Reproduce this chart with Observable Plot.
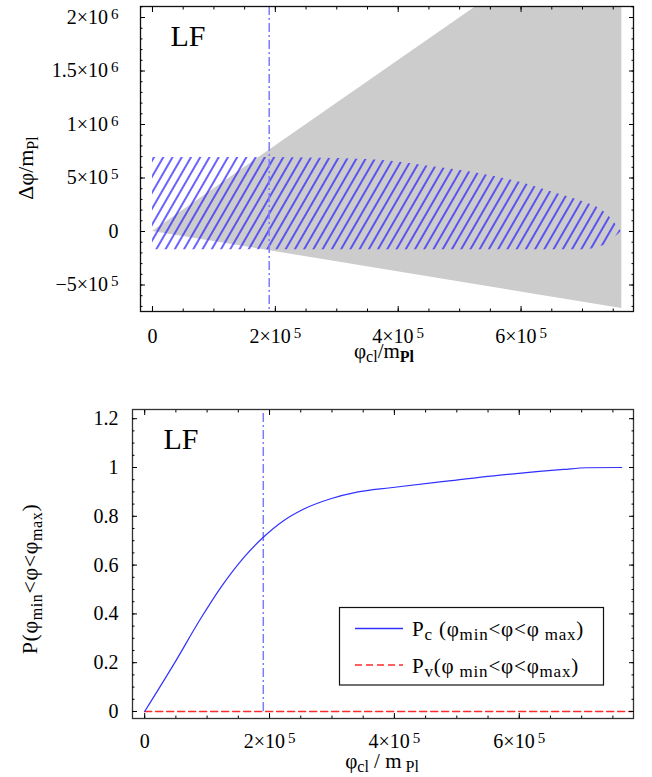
<!DOCTYPE html>
<html><head><meta charset="utf-8">
<script src="https://cdn.jsdelivr.net/npm/d3@7"></script>
<script src="https://cdn.jsdelivr.net/npm/@observablehq/plot@0.6"></script>
<style>
body{margin:0;background:#fff;}
#chart{width:652px;height:777px;}
#chart svg{display:block;}
</style></head><body><div id="chart"></div>
<script>
const FONT = "'Liberation Serif','Times New Roman',serif";

// ---------- data ----------
const xDomain = [-19500, 783000];
const topYDomain = [-747700, 2103000];
const botYDomain = [-0.0287, 1.2377];

// grey allowed wedge (top panel)
const wedgeX = [0, 764000];
const wedgeUpper = [0, 3050000];
const wedgeLower = [0, -720000];

// hatched region (top panel)
const hatchX = [0, 100000, 200000, 250000, 300000, 350000, 400000, 450000, 500000, 550000, 600000, 650000, 700000, 730000, 745000, 755000, 763000];
const hatchTop = [692000, 692000, 692000, 688000, 682000, 672000, 650000, 610000, 572000, 522000, 458000, 370000, 280000, 205000, 130000, 60000, 0];
const hatchBottom = [-170000, -170000, -170000, -170000, -170000, -170000, -170000, -170000, -170000, -170000, -170000, -170000, -170000, -140000, -95000, -45000, 0];

// phi_cl marker
const clX = [190000];

// bottom panel series
const pcX = [0, 47000, 90000, 124000, 159000, 190000, 223000, 255000, 298000, 340000, 394000, 484000, 591000, 671000, 708000, 764000];
const pcY = [0, 0.195, 0.382, 0.516, 0.632, 0.714, 0.783, 0.83, 0.872, 0.899, 0.917, 0.944, 0.974, 0.992, 0.999, 1.0];
const pvX = [0, 780000];
const pvY = [0, 0];

// ticks
const xTicks = [0, 200000, 400000, 600000];
const xTickLabels = ["0", "2×10^5", "4×10^5", "6×10^5"];
const xMinor = [0, 50000, 100000, 150000, 200000, 250000, 300000, 350000, 400000, 450000, 500000, 550000, 600000, 650000, 700000, 750000];
const topYTicks = [-500000, 0, 500000, 1000000, 1500000, 2000000];
const topYTickLabels = ["−5×10^5", "0", "5×10^5", "1×10^6", "1.5×10^6", "2×10^6"];
const topYMinor = [-700000, -600000, -500000, -400000, -300000, -200000, -100000, 0, 100000, 200000, 300000, 400000, 500000, 600000, 700000, 800000, 900000, 1000000, 1100000, 1200000, 1300000, 1400000, 1500000, 1600000, 1700000, 1800000, 1900000, 2000000, 2100000];
const botYTicks = [0, 0.2, 0.4, 0.6, 0.8, 1, 1.2];
const botYTickLabels = ["0", "0.2", "0.4", "0.6", "0.8", "1", "1.2"];
const botYMinor = [0, 0.05, 0.1, 0.15, 0.2, 0.25, 0.3, 0.35, 0.4, 0.45, 0.5, 0.55, 0.6, 0.65, 0.7, 0.75, 0.8, 0.85, 0.9, 0.95, 1, 1.05, 1.1, 1.15, 1.2];

// ---------- tables ----------
const wedge = wedgeX.map((x, i) => ({x, lo: wedgeLower[i], hi: wedgeUpper[i]}));
const hatch = hatchX.map((x, i) => ({x, lo: hatchBottom[i], hi: hatchTop[i]}));
const pc = pcX.map((x, i) => ({x, y: pcY[i]}));
const pv = pvX.map((x, i) => ({x, y: pvY[i]}));

const fmt = (T, L) => d => { const i = T.indexOf(d); return i < 0 ? "" : L[i]; };
const blank = () => "";

function boxAxes(xT, xL, xM, yT, yL, yM, padX, padY) {
  return [
    Plot.axisX(xT, {anchor: "bottom", tickSize: -5, tickPadding: padX, tickFormat: fmt(xT, xL), label: null}),
    Plot.axisX(xM, {anchor: "bottom", tickSize: -2.5, tickFormat: blank, label: null}),
    Plot.axisX(xT, {anchor: "top", tickSize: -5, tickFormat: blank, label: null}),
    Plot.axisX(xM, {anchor: "top", tickSize: -2.5, tickFormat: blank, label: null}),
    Plot.axisY(yT, {anchor: "left", tickSize: -5, tickPadding: padY, tickFormat: fmt(yT, yL), label: null}),
    Plot.axisY(yM, {anchor: "left", tickSize: -2.5, tickFormat: blank, label: null}),
    Plot.axisY(yT, {anchor: "right", tickSize: -5, tickFormat: blank, label: null}),
    Plot.axisY(yM, {anchor: "right", tickSize: -2.5, tickFormat: blank, label: null})
  ];
}

const style = {background: "white", fontFamily: FONT, fontSize: "20px", color: "black", overflow: "visible"};

const topSvg = Plot.plot({
  width: 652, height: 365,
  marginLeft: 140, marginRight: 19, marginTop: 6, marginBottom: 54,
  x: {domain: xDomain},
  y: {domain: topYDomain},
  style,
  marks: [
    Plot.areaY(wedge, {x: "x", y1: "lo", y2: "hi", fill: "#cccccc", clip: true}),
    Plot.areaY(hatch, {x: "x", y1: "lo", y2: "hi", fill: "url(#hatch)", curve: "monotone-x"}),
    Plot.ruleX(clX, {stroke: "#7b7bff", strokeWidth: 1.5, strokeDasharray: "9,3,2,3"}),
    Plot.frame({stroke: "#111", strokeWidth: 1.3}),
    ...boxAxes(xTicks, xTickLabels, xMinor, topYTicks, topYTickLabels, topYMinor, 22, 27),
    Plot.text(["LF"], {text: d => d, frameAnchor: "top-left", dx: 30, dy: 39, lineAnchor: "bottom", textAnchor: "start", fontSize: 30})
  ]
});

const botSvg = Plot.plot({
  width: 652, height: 412,
  marginLeft: 132, marginRight: 19, marginTop: 44, marginBottom: 59,
  x: {domain: xDomain},
  y: {domain: botYDomain},
  style,
  marks: [
    Plot.ruleX(clX, {y1: 0, y2: botYDomain[1], stroke: "#7b7bff", strokeWidth: 1.5, strokeDasharray: "9,3,2,3"}),
    Plot.line(pv, {x: "x", y: "y", stroke: "#ff2a2a", strokeWidth: 1.5, strokeDasharray: "7,4"}),
    Plot.line(pc, {x: "x", y: "y", stroke: "#3030ff", strokeWidth: 1.2, curve: "monotone-x"}),
    Plot.frame({stroke: "#333", strokeWidth: 1.3}),
    ...boxAxes(xTicks, xTickLabels, xMinor, botYTicks, botYTickLabels, botYMinor, 20, 19),
    Plot.text(["LF"], {text: d => d, frameAnchor: "top-left", dx: 31, dy: 39, lineAnchor: "bottom", textAnchor: "start", fontSize: 30})
  ]
});

const chart = document.getElementById("chart");
chart.appendChild(topSvg);
chart.appendChild(botSvg);

// hatch pattern
const defs = d3.select(topSvg).insert("defs", ":first-child");
const pat = defs.append("pattern").attr("id", "hatch").attr("patternUnits", "userSpaceOnUse")
  .attr("width", 8).attr("height", 8).attr("patternTransform", "rotate(30)");
pat.append("line").attr("x1", 4).attr("y1", -1).attr("x2", 4).attr("y2", 9)
  .attr("stroke", "#2a1fff").attr("stroke-width", 1.4);

// superscripts in tick labels
for (const svg of [topSvg, botSvg]) {
  svg.querySelectorAll("text").forEach(t => {
    if (t.children.length) return;
    const s = t.textContent;
    const i = s.indexOf("^");
    if (i < 0) return;
    t.textContent = s.slice(0, i);
    const ts = document.createElementNS("http://www.w3.org/2000/svg", "tspan");
    ts.setAttribute("dx", "3");
    ts.setAttribute("dy", "-5");
    ts.setAttribute("font-size", "15");
    ts.textContent = s.slice(i + 1);
    t.appendChild(ts);
  });
}

function rich(svg, {x, y, rotate = 0, anchor = "middle", size = 22, spacing = 0, parts}) {
  const t = d3.select(svg).append("text")
    .attr("transform", `translate(${x},${y}) rotate(${rotate})`)
    .attr("text-anchor", anchor)
    .attr("font-family", FONT).attr("font-size", size).attr("fill", "black")
    .style("white-space", "pre");
  if (spacing) t.attr("letter-spacing", spacing);
  let cur = 0;
  for (const p of parts) {
    const s = t.append("tspan").text(p.t);
    const shift = p.shift || 0;
    if (shift !== cur) s.attr("dy", shift - cur);
    cur = shift;
    if (p.size) s.attr("font-size", p.size);
    if (p.bold) s.attr("font-weight", "bold");
  }
  return t;
}

// axis titles
rich(topSvg, {x: 384, y: 358, size: 21, parts: [{t: "φ"}, {t: "cl", size: 16, shift: 4}, {t: "/m"}, {t: "Pl", size: 16, shift: 4, bold: true}]});
rich(topSvg, {x: 33, y: 168, rotate: -90, parts: [{t: "Δφ/m"}, {t: "Pl", size: 16, shift: 5}]});
rich(botSvg, {x: 37, y: 214, rotate: -90, spacing: 0.6, parts: [{t: "P(φ"}, {t: "min", size: 16, shift: 5}, {t: "<φ<φ"}, {t: "max", size: 16, shift: 5}, {t: ")"}]});
rich(botSvg, {x: 382, y: 403, size: 21, parts: [{t: "φ"}, {t: "cl", size: 16, shift: 4}, {t: " / m"}, {t: " Pl", size: 16, shift: 4}]});

// legend
const lg = d3.select(botSvg).append("g");
lg.append("rect").attr("x", 339.5).attr("y", 242.5).attr("width", 264).attr("height", 77.5)
  .attr("fill", "white").attr("stroke", "#111").attr("stroke-width", 1.2);
lg.append("line").attr("x1", 355).attr("x2", 403).attr("y1", 263.5).attr("y2", 263.5)
  .attr("stroke", "#3030ff").attr("stroke-width", 1.3);
lg.append("line").attr("x1", 355).attr("x2", 403).attr("y1", 300).attr("y2", 300)
  .attr("stroke", "#ff2a2a").attr("stroke-width", 1.5).attr("stroke-dasharray", "7,4");
rich(botSvg, {x: 412, y: 271, anchor: "start", size: 21, spacing: 0.8, parts: [{t: "P"}, {t: "c", size: 17, shift: 4}, {t: " (φ"}, {t: "min", size: 17, shift: 4}, {t: "<φ<φ"}, {t: " max", size: 17, shift: 4}, {t: ")"}]});
rich(botSvg, {x: 412, y: 308, anchor: "start", size: 21, spacing: 0.8, parts: [{t: "P"}, {t: "v", size: 17, shift: 4}, {t: "(φ"}, {t: " min", size: 17, shift: 4}, {t: "<φ<φ"}, {t: "max", size: 17, shift: 4}, {t: ")"}]});
</script>
</body></html>
